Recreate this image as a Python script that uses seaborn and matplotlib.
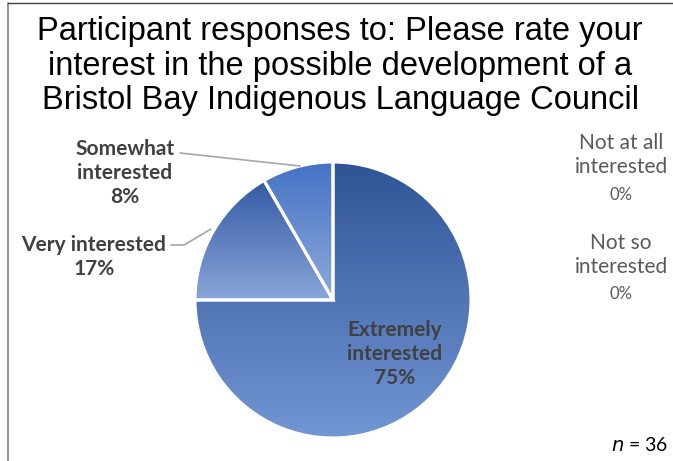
import numpy as np
import matplotlib
matplotlib.use("Agg")
import matplotlib.pyplot as plt
from matplotlib.colors import LinearSegmentedColormap
import seaborn as sns

# data
categories = ["Extremely interested", "Very interested", "Somewhat interested",
              "Not so interested", "Not at all interested"]
counts = [27, 6, 3, 0, 0]
pct_labels = ["75%", "17%", "8%", "0%", "0%"]
n_total = 36

# gradient stops per wedge (top -> bottom)
grad_top = ["#2f5496", "#335aa3", "#4472c4"]
grad_bot = ["#7396d4", "#8aa6da", "#8eaadc"]

title = ("Participant responses to: Please rate your\n"
         "interest in the possible development of a\n"
         "Bristol Bay Indigenous Language Council")

sns.set_theme(style="white")
plt.rcParams["font.family"] = ["Liberation Sans", "DejaVu Sans"]

W, H = 673, 461
fig = plt.figure(figsize=(W / 100, H / 100), dpi=100)
fig.patch.set_facecolor("white")


def fx(px):
    return px / W


def fy(py):
    return 1 - py / H


# chart frame (cropped on right and bottom)
fig.add_artist(plt.Line2D([fx(8), fx(8)], [fy(3), 0], color="#7f7f7f", lw=1.2))
fig.add_artist(plt.Line2D([fx(8), 1], [fy(3), fy(3)], color="#3f3f3f", lw=1.0))

fig.text(fx(340), fy(66), title, ha="center", va="center", fontsize=23.5,
         color="black", linespacing=1.14, family=["Liberation Sans", "DejaVu Sans"])

cx, cy, r = 333, 300, 138
ax = fig.add_axes([fx(cx - r), fy(cy + r), 2 * r / W, 2 * r / H])
ax.set_xlim(-1, 1)
ax.set_ylim(-1, 1)
ax.set_aspect("equal")
ax.axis("off")

nonzero = [c for c in counts if c > 0]
wedges, _ = ax.pie(nonzero, startangle=90, counterclock=False, radius=1,
                   wedgeprops=dict(edgecolor="white", linewidth=2.2))

for i, w in enumerate(wedges):
    w.set_facecolor("none")
    verts = w.get_path().vertices
    x0, x1 = verts[:, 0].min(), verts[:, 0].max()
    y0, y1 = verts[:, 1].min(), verts[:, 1].max()
    cmap = LinearSegmentedColormap.from_list(f"g{i}", [grad_bot[i], grad_top[i]])
    grad = np.linspace(0, 1, 256).reshape(-1, 1)
    im = ax.imshow(grad, cmap=cmap, extent=[x0, x1, y0, y1], origin="lower",
                   aspect="auto", zorder=1)
    im.set_clip_path(w)
    w.set_zorder(2)

ax.set_xlim(-1, 1)
ax.set_ylim(-1, 1)

lab_kw = dict(ha="center", va="center", fontsize=15, color="#404040",
              fontweight="bold", family=["Lato", "DejaVu Sans"], linespacing=1.25)

# Extremely interested (inside)
fig.text(fx(395), fy(354), f"Extremely\ninterested\n{pct_labels[0]}", **lab_kw)
# Very interested
fig.text(fx(94), fy(257), f"Very interested\n{pct_labels[1]}", **lab_kw)
# Somewhat interested
fig.text(fx(125), fy(173), f"Somewhat\ninterested\n{pct_labels[2]}", **lab_kw)

# leader lines
fig.add_artist(plt.Line2D([fx(180), fx(300)], [fy(153), fy(166)], color="#a6a6a6", lw=1.2))
fig.add_artist(plt.Line2D([fx(171), fx(184), fx(211)], [fy(245), fy(245), fy(229)],
                          color="#a6a6a6", lw=1.2))

# zero categories on the right
gray_kw = dict(ha="center", va="center", color="#595959", family=["Lato", "DejaVu Sans"])
fig.text(fx(621), fy(155), "Not at all\ninterested", fontsize=15, linespacing=1.25, **gray_kw)
fig.text(fx(621), fy(195), pct_labels[4], fontsize=12, **gray_kw)
fig.text(fx(621), fy(255), "Not so\ninterested", fontsize=15, linespacing=1.25, **gray_kw)
fig.text(fx(621), fy(294), pct_labels[3], fontsize=12, **gray_kw)

fig.text(fx(668), fy(445), f"$n$ = {n_total}", ha="right", va="center", fontsize=14,
         color="black", family=["Lato", "DejaVu Sans"])

fig.savefig("out.png", dpi=100, facecolor="white")
